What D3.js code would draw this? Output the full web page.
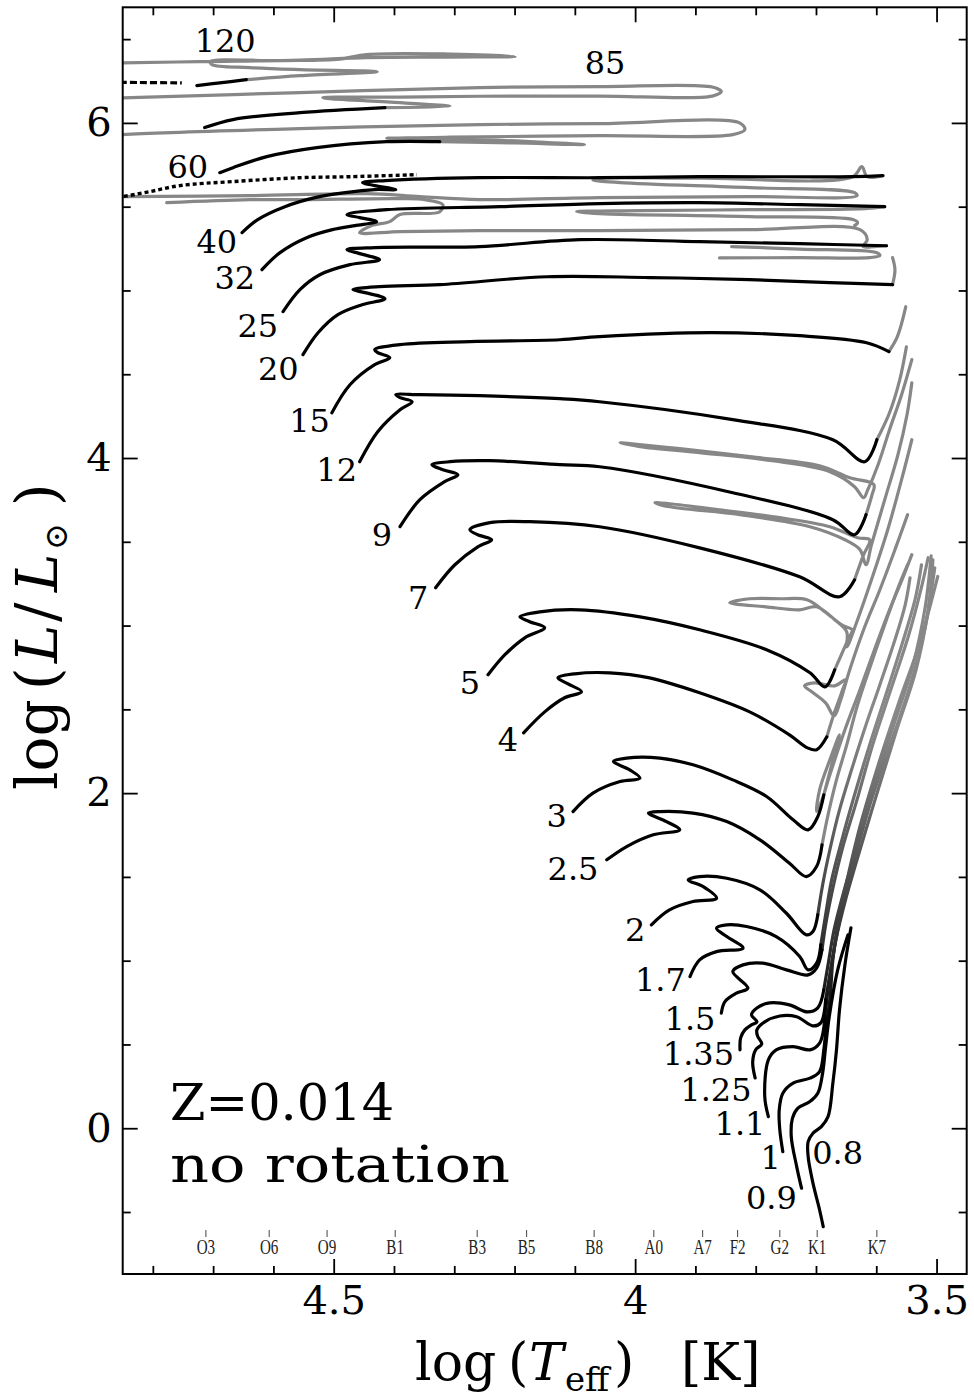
<!DOCTYPE html>
<html><head><meta charset="utf-8">
<script src="https://cdn.jsdelivr.net/npm/d3@7"></script>
<style>body{margin:0;background:#fff}svg{display:block}</style>
</head><body>
<svg id="chart" width="974" height="1398"></svg>
<script>
// Axis ticks
const xTicks = [4.8, 4.7, 4.6, 4.5, 4.4, 4.3, 4.2, 4.1, 4.0, 3.9, 3.8, 3.7, 3.6, 3.5];
const xMajor = [4.5, 4.0, 3.5];
const yTicks = [-0.5, 0, 0.5, 1, 1.5, 2, 2.5, 3, 3.5, 4, 4.5, 5, 5.5, 6, 6.5];
const yMajor = [0, 2, 4, 6];

// Spectral types along log Teff
const spectralTypes = ["O3","O6","O9","B1","B3","B5","B8","A0","A7","F2","G2","K1","K7"];
const spectralTeff  = [4.712,4.607,4.511,4.398,4.262,4.180,4.068,3.969,3.888,3.830,3.760,3.698,3.599];

// Initial masses (Msun) and label positions [logTeff, logL]
const masses = ["0.8","0.9","1","1.1","1.25","1.35","1.5","1.7","2","2.5","3","4","5","7","9","12","15","20","25","32","40","60","85","120"];
const labelPos = [
  [3.664,-0.147],[3.774,-0.416],[3.775,-0.177],[3.826,0.026],[3.866,0.229],[3.895,0.444],[3.909,0.653],[3.958,0.885],
  [4.000,1.184],[4.103,1.548],[4.130,1.864],[4.211,2.318],[4.274,2.658],[4.360,3.166],[4.420,3.542],[4.495,3.930],
  [4.540,4.223],[4.592,4.533],[4.626,4.790],[4.664,5.077],[4.694,5.291],[4.742,5.739],[4.050,6.363],[4.680,6.491]
];

// Early phases (main sequence, hook, Hertzsprung gap), drawn in black
const blackTracks = [
  [[3.688,-0.587],[3.694,-0.488],[3.705,-0.328],[3.713,-0.170],[3.713,-0.080],[3.705,-0.030],[3.691,0.010],[3.680,0.069],[3.672,0.269],[3.666,0.468],[3.661,0.706],[3.652,0.975],[3.642,1.196]],
  [[3.724,-0.358],[3.732,-0.229],[3.741,-0.050],[3.739,0.060],[3.730,0.120],[3.710,0.159],[3.697,0.209],[3.689,0.329],[3.684,0.486],[3.678,0.666],[3.664,0.945],[3.647,1.154]],
  [[3.755,-0.140],[3.760,-0.010],[3.761,0.109],[3.755,0.209],[3.738,0.269],[3.710,0.299],[3.694,0.338],[3.687,0.468],[3.683,0.627]],
  [[3.779,0.069],[3.785,0.189],[3.779,0.408],[3.766,0.468],[3.738,0.487],[3.710,0.468],[3.694,0.508],[3.685,0.666]],
  [[3.801,0.300],[3.805,0.396],[3.800,0.468],[3.790,0.503],[3.797,0.551],[3.798,0.587],[3.785,0.635],[3.760,0.670],[3.732,0.665],[3.705,0.611],[3.692,0.629],[3.684,0.766]],
  [[3.826,0.468],[3.825,0.539],[3.818,0.587],[3.807,0.617],[3.798,0.635],[3.807,0.677],[3.798,0.718],[3.777,0.748],[3.744,0.736],[3.714,0.694],[3.697,0.718],[3.687,0.826]],
  [[3.857,0.687],[3.851,0.756],[3.832,0.806],[3.813,0.836],[3.838,0.935],[3.821,0.975],[3.788,0.985],[3.749,0.945],[3.713,0.915],[3.699,0.955],[3.690,1.065]],
  [[3.909,0.905],[3.893,1.005],[3.865,1.054],[3.821,1.075],[3.848,1.144],[3.865,1.194],[3.848,1.214],[3.815,1.204],[3.766,1.144],[3.727,1.025],[3.713,0.945],[3.699,0.985],[3.692,1.094]],
  [[3.973,1.214],[3.943,1.303],[3.904,1.353],[3.865,1.373],[3.887,1.442],[3.912,1.482],[3.893,1.502],[3.848,1.492],[3.793,1.423],[3.749,1.283],[3.716,1.154],[3.705,1.174],[3.697,1.274]],
  [[4.047,1.602],[4.014,1.681],[3.970,1.751],[3.926,1.781],[3.948,1.830],[3.978,1.881],[3.959,1.890],[3.904,1.881],[3.848,1.830],[3.793,1.721],[3.744,1.582],[3.716,1.502],[3.699,1.562],[3.690,1.691]],
  [[4.103,1.890],[4.070,2.000],[4.025,2.069],[3.992,2.089],[4.009,2.139],[4.036,2.189],[4.014,2.209],[3.959,2.209],[3.904,2.169],[3.838,2.079],[3.782,1.980],[3.738,1.841],[3.713,1.781],[3.697,1.860],[3.687,1.990]],
  [[4.185,2.360],[4.150,2.485],[4.117,2.569],[4.089,2.605],[4.112,2.653],[4.128,2.688],[4.100,2.712],[4.042,2.718],[3.976,2.688],[3.893,2.599],[3.810,2.485],[3.744,2.348],[3.714,2.270],[3.699,2.259],[3.682,2.336]],
  [[4.244,2.706],[4.216,2.826],[4.183,2.927],[4.150,2.987],[4.175,3.023],[4.191,3.052],[4.158,3.082],[4.092,3.094],[3.992,3.052],[3.893,2.975],[3.782,2.856],[3.710,2.718],[3.685,2.634],[3.669,2.736]],
  [[4.331,3.226],[4.299,3.363],[4.261,3.470],[4.238,3.512],[4.261,3.542],[4.274,3.572],[4.241,3.614],[4.175,3.620],[4.059,3.590],[3.893,3.464],[3.727,3.291],[3.661,3.172],[3.636,3.273]],
  [[4.390,3.590],[4.357,3.751],[4.316,3.859],[4.294,3.900],[4.319,3.930],[4.337,3.960],[4.307,3.978],[4.241,3.984],[4.125,3.960],[4.059,3.948],[3.838,3.793],[3.672,3.632],[3.636,3.542],[3.617,3.662]],
  [[4.457,3.978],[4.427,4.157],[4.390,4.288],[4.370,4.336],[4.390,4.360],[4.397,4.378],[4.357,4.378],[4.258,4.372],[4.125,4.354],[4.059,4.336],[3.838,4.229],[3.672,4.109],[3.619,3.978],[3.599,4.109]],
  [[4.503,4.270],[4.473,4.437],[4.432,4.557],[4.407,4.599],[4.427,4.629],[4.432,4.647],[4.390,4.677],[4.274,4.695],[4.125,4.706],[4.059,4.724],[3.876,4.748],[3.727,4.730],[3.616,4.688],[3.579,4.635]],
  [[4.551,4.617],[4.526,4.748],[4.493,4.856],[4.453,4.915],[4.415,4.951],[4.448,4.987],[4.468,5.005],[4.424,5.023],[4.324,5.035],[4.146,5.082],[3.976,5.077],[3.810,5.065],[3.677,5.047],[3.573,5.035]],
  [[4.584,4.874],[4.556,5.005],[4.523,5.094],[4.473,5.154],[4.424,5.184],[4.457,5.220],[4.478,5.244],[4.432,5.256],[4.258,5.262],[4.092,5.303],[3.893,5.291],[3.727,5.279],[3.583,5.267]],
  [[4.619,5.124],[4.589,5.226],[4.545,5.315],[4.502,5.363],[4.465,5.387],[4.429,5.411],[4.457,5.435],[4.478,5.453],[4.412,5.482],[4.224,5.500],[4.059,5.518],[3.893,5.524],[3.727,5.512],[3.586,5.500]],
  [[4.652,5.345],[4.626,5.423],[4.581,5.500],[4.531,5.554],[4.481,5.584],[4.432,5.602],[4.397,5.602],[4.432,5.626],[4.452,5.644],[4.414,5.656],[4.258,5.673],[4.059,5.673],[3.893,5.679],[3.639,5.679],[3.589,5.685]],
  [[4.689,5.703],[4.667,5.733],[4.611,5.799],[4.528,5.853],[4.412,5.888],[4.324,5.888]],
  [[4.714,5.972],[4.667,6.020],[4.556,6.061],[4.415,6.091]],
  [[4.727,6.223],[4.689,6.239],[4.645,6.258]]
];

// Later phases (giant branches, blue loops, supergiant excursions), drawn in grey
const greyTracks = [
  null,
  null,
  [[3.683,0.627],[3.677,0.766],[3.672,1.005],[3.664,1.214],[3.652,1.423],[3.627,1.801],[3.594,2.199],[3.561,2.557],[3.528,2.895],[3.498,3.293]],
  [[3.685,0.666],[3.679,0.856],[3.670,1.065],[3.657,1.303],[3.636,1.602],[3.608,1.960],[3.574,2.318],[3.541,2.676],[3.518,3.005],[3.503,3.345]],
  [[3.684,0.766],[3.677,0.915],[3.667,1.124],[3.651,1.363],[3.627,1.662],[3.597,2.020],[3.566,2.378],[3.534,2.736],[3.514,3.094],[3.506,3.393]],
  [[3.687,0.826],[3.680,0.975],[3.670,1.184],[3.654,1.411],[3.631,1.692],[3.603,2.050],[3.571,2.408],[3.539,2.766],[3.519,3.106],[3.509,3.416]],
  [[3.690,1.065],[3.684,1.214],[3.672,1.433],[3.656,1.672],[3.632,1.960],[3.606,2.288],[3.576,2.617],[3.546,2.945],[3.526,3.214],[3.514,3.405]],
  [[3.692,1.094],[3.684,1.274],[3.674,1.482],[3.657,1.721],[3.636,1.990],[3.611,2.288],[3.583,2.599],[3.555,2.915],[3.535,3.166],[3.525,3.363]],
  [[3.697,1.274],[3.689,1.452],[3.677,1.662],[3.661,1.900],[3.641,2.139],[3.617,2.408],[3.594,2.647],[3.569,2.915],[3.552,3.124],[3.544,3.285]],
  [[3.690,1.691],[3.680,1.870],[3.666,2.079],[3.649,2.288],[3.631,2.527],[3.609,2.766],[3.586,3.005],[3.565,3.214],[3.548,3.363]],
  [[3.687,1.990],[3.674,2.169],[3.661,2.348],[3.677,2.199],[3.694,2.020],[3.699,1.890],[3.690,1.960],[3.677,2.109],[3.652,2.378],[3.627,2.617],[3.603,2.856],[3.578,3.094],[3.556,3.285],[3.541,3.423]],
  [[3.682,2.336],[3.669,2.485],[3.657,2.605],[3.651,2.676],[3.669,2.640],[3.702,2.658],[3.719,2.640],[3.707,2.605],[3.684,2.539],[3.670,2.461],[3.660,2.545],[3.644,2.736],[3.621,2.975],[3.594,3.214],[3.569,3.453],[3.548,3.662]],
  [[3.669,2.736],[3.647,2.915],[3.640,2.975],[3.655,2.999],[3.685,3.082],[3.715,3.154],[3.760,3.160],[3.810,3.160],[3.843,3.136],[3.783,3.112],[3.727,3.094],[3.699,3.112],[3.669,3.035],[3.649,2.963],[3.649,2.873],[3.631,3.035],[3.608,3.273],[3.581,3.572],[3.558,3.871],[3.541,4.109]],
  [[3.636,3.273],[3.621,3.423],[3.611,3.512],[3.631,3.524],[3.677,3.590],[3.760,3.644],[3.860,3.691],[3.943,3.727],[3.967,3.733],[3.943,3.709],[3.826,3.662],[3.710,3.590],[3.652,3.512],[3.627,3.453],[3.617,3.363],[3.608,3.482],[3.586,3.751],[3.564,4.020],[3.549,4.258],[3.541,4.449]],
  [[3.617,3.662],[3.607,3.781],[3.604,3.841],[3.644,3.882],[3.694,3.954],[3.810,4.008],[3.926,4.056],[4.009,4.086],[4.025,4.092],[3.992,4.068],[3.893,4.032],[3.760,3.978],[3.677,3.918],[3.636,3.829],[3.621,3.763],[3.614,3.811],[3.597,3.960],[3.578,4.169],[3.558,4.378],[3.541,4.587]],
  [[3.599,4.109],[3.578,4.270],[3.561,4.468],[3.550,4.664]],
  [[3.579,4.635],[3.565,4.724],[3.551,4.903]],
  [[3.573,5.035],[3.569,5.124],[3.573,5.196]],
  [[3.583,5.267],[3.603,5.262],[3.622,5.262],[3.615,5.303],[3.627,5.363],[3.810,5.363],[4.059,5.357],[4.258,5.357],[4.390,5.351],[4.457,5.345],[4.437,5.387],[4.407,5.411],[4.390,5.453],[4.324,5.470],[4.319,5.512],[4.349,5.542],[4.390,5.548],[4.556,5.542],[4.639,5.542],[4.777,5.524]],
  [[3.586,5.500],[3.619,5.488],[3.810,5.482],[3.992,5.476],[4.097,5.470],[4.059,5.459],[3.810,5.441],[3.639,5.423],[3.631,5.405],[3.636,5.387]],
  [[3.589,5.685],[3.615,5.679],[3.624,5.739],[3.639,5.679],[3.893,5.670],[4.059,5.670],[4.070,5.660],[4.025,5.644],[3.810,5.614],[3.636,5.584],[3.632,5.566],[3.810,5.560],[4.059,5.554],[4.258,5.542],[4.357,5.560],[4.445,5.578],[4.639,5.566],[4.850,5.560],[4.871,5.560]],
  [[4.324,5.888],[4.200,5.880],[4.084,5.871],[4.258,5.900],[4.390,5.906],[4.412,5.908],[4.307,5.915],[4.059,5.924],[3.838,5.930],[3.818,5.960],[3.826,5.999],[4.059,5.996],[4.258,5.990],[4.556,5.966],[4.850,5.930],[4.871,5.924]],
  [[4.415,6.091],[4.307,6.099],[4.390,6.121],[4.506,6.145],[4.518,6.151],[4.390,6.154],[4.258,6.159],[4.059,6.160],[3.872,6.160],[3.857,6.187],[3.872,6.214],[4.059,6.217],[4.258,6.211],[4.556,6.181],[4.850,6.149],[4.871,6.147]],
  [[4.645,6.258],[4.556,6.282],[4.428,6.306],[4.556,6.318],[4.639,6.330],[4.702,6.348],[4.705,6.366],[4.589,6.372],[4.490,6.381],[4.445,6.408],[4.307,6.411],[4.199,6.396],[4.307,6.393],[4.445,6.390],[4.556,6.375],[4.722,6.366],[4.850,6.358],[4.871,6.357]]
];

// Extra grey excursion of the 25 Msun model
const loop25 = [[3.840,5.262],[3.727,5.247],[3.600,5.226],[3.594,5.208],[3.611,5.196],[3.727,5.196],[3.860,5.194]];

// Dashed / dotted segments
const dashed120 = [[4.871,6.243],[4.850,6.242],[4.752,6.239]];
const dotted40 = [[4.871,5.548],[4.850,5.560],[4.805,5.590],[4.755,5.626],[4.667,5.650],[4.556,5.673],[4.473,5.679],[4.362,5.691]];

// Tracks whose giant branch is shaded dark-to-grey
const shadedRGB = ["1","1.1","1.25","1.35","1.5","1.7","2"];

// ---------------------------------------------------------------
const svg = d3.select("#chart");
const P = {left: 122.7, right: 966.7, top: 7.3, bottom: 1274};
const serif = "'DejaVu Serif', 'Liberation Serif', serif";

const x = d3.scaleLinear().domain([4.85, 3.45]).range([P.left, P.right]);
const y = d3.scaleLinear().domain([-0.87, 6.69]).range([P.bottom, P.top]);

const defs = svg.append("defs");
defs.append("clipPath").attr("id", "plotClip").append("rect")
  .attr("x", P.left).attr("y", P.top).attr("width", P.right - P.left).attr("height", P.bottom - P.top);

const grad = defs.append("linearGradient").attr("id", "rgbShade")
  .attr("gradientUnits", "userSpaceOnUse")
  .attr("x1", 0).attr("x2", 0).attr("y1", y(0.5)).attr("y2", y(2.4));
grad.append("stop").attr("offset", 0).attr("stop-color", "#000");
grad.append("stop").attr("offset", 0.45).attr("stop-color", "#444");
grad.append("stop").attr("offset", 1).attr("stop-color", "#878787");

const line = d3.line().x(d => x(d[0])).y(d => y(d[1])).curve(d3.curveCatmullRom.alpha(0.5));

const plot = svg.append("g").attr("clip-path", "url(#plotClip)");
const GREY = "#878787";
const LW = 3.2;

// grey later phases
plot.append("g").selectAll("path").data(greyTracks.map((t, i) => ({t, m: masses[i]})).filter(d => d.t))
  .join("path")
  .attr("d", d => line(d.t))
  .attr("fill", "none")
  .attr("stroke", d => shadedRGB.includes(d.m) ? "url(#rgbShade)" : GREY)
  .attr("stroke-width", LW)
  .attr("stroke-linejoin", "round").attr("stroke-linecap", "round");

plot.append("path").attr("d", line(loop25)).attr("fill", "none")
  .attr("stroke", GREY).attr("stroke-width", LW).attr("stroke-linecap", "round");

// black early phases
plot.append("g").selectAll("path").data(blackTracks).join("path")
  .attr("d", d => line(d))
  .attr("fill", "none").attr("stroke", "#000").attr("stroke-width", LW)
  .attr("stroke-linejoin", "round").attr("stroke-linecap", "round");

plot.append("path").attr("d", line(dashed120)).attr("fill", "none")
  .attr("stroke", "#000").attr("stroke-width", LW).attr("stroke-dasharray", "7,3");
plot.append("path").attr("d", line(dotted40)).attr("fill", "none")
  .attr("stroke", "#000").attr("stroke-width", 3.4).attr("stroke-dasharray", "4,3");

// mass labels
const LFS = 32;
svg.append("g").selectAll("text").data(masses).join("text")
  .attr("x", (d, i) => x(labelPos[i][0]))
  .attr("y", (d, i) => y(labelPos[i][1]) + LFS * 0.36)
  .attr("text-anchor", "middle")
  .attr("font-family", serif).attr("font-size", LFS)
  .text(d => d);

// spectral types
const spec = svg.append("g");
spectralTypes.forEach((s, i) => {
  const sx = x(spectralTeff[i]);
  spec.append("line").attr("x1", sx).attr("x2", sx).attr("y1", P.bottom - 44).attr("y2", P.bottom - 37)
    .attr("stroke", "#444").attr("stroke-width", 1);
  spec.append("text")
    .attr("transform", `translate(${sx},${P.bottom - 20}) scale(0.72,1)`)
    .attr("text-anchor", "middle")
    .attr("font-family", "'Liberation Serif', serif").attr("font-size", 21)
    .attr("fill", "#222")
    .text(s);
});

// axes: ticks on all four sides pointing inward
function styleAxis(g) {
  g.select(".domain").remove();
  g.selectAll(".tick line").attr("stroke", "#000").attr("stroke-width", 1.8);
  g.selectAll(".tick text").attr("font-family", serif).attr("fill", "#000");
}
const minorX = xTicks.filter(v => !xMajor.includes(v));
const minorY = yTicks.filter(v => !yMajor.includes(v));

svg.append("g").attr("transform", `translate(0,${P.bottom})`)
  .call(d3.axisBottom(x).tickValues(minorX).tickSize(-8).tickFormat("")).call(styleAxis);
svg.append("g").attr("transform", `translate(0,${P.bottom})`)
  .call(d3.axisBottom(x).tickValues(xMajor).tickSize(-15).tickPadding(12).tickFormat(d3.format(".2~f")))
  .call(styleAxis)
  .call(g => g.selectAll(".tick text").attr("font-size", 40));
svg.append("g").attr("transform", `translate(0,${P.top})`)
  .call(d3.axisTop(x).tickValues(minorX).tickSize(-8).tickFormat("")).call(styleAxis);
svg.append("g").attr("transform", `translate(0,${P.top})`)
  .call(d3.axisTop(x).tickValues(xMajor).tickSize(-15).tickFormat("")).call(styleAxis);

svg.append("g").attr("transform", `translate(${P.left},0)`)
  .call(d3.axisLeft(y).tickValues(minorY).tickSize(-8).tickFormat("")).call(styleAxis);
svg.append("g").attr("transform", `translate(${P.left},0)`)
  .call(d3.axisLeft(y).tickValues(yMajor).tickSize(-15).tickPadding(11).tickFormat(d3.format("d")))
  .call(styleAxis)
  .call(g => g.selectAll(".tick text").attr("font-size", 40));
svg.append("g").attr("transform", `translate(${P.right},0)`)
  .call(d3.axisRight(y).tickValues(minorY).tickSize(-8).tickFormat("")).call(styleAxis);
svg.append("g").attr("transform", `translate(${P.right},0)`)
  .call(d3.axisRight(y).tickValues(yMajor).tickSize(-15).tickFormat("")).call(styleAxis);

// frame
svg.append("rect").attr("x", P.left).attr("y", P.top)
  .attr("width", P.right - P.left).attr("height", P.bottom - P.top)
  .attr("fill", "none").attr("stroke", "#000").attr("stroke-width", 2);

// axis titles
const xt = svg.append("text").attr("y", 1380).attr("font-family", serif).attr("font-size", 52);
xt.append("tspan").attr("x", 415).text("log");
xt.append("tspan").attr("x", 508).text("(");
xt.append("tspan").attr("x", 529).attr("font-style", "italic").text("T");
xt.append("tspan").attr("x", 565).attr("font-size", 34).attr("dy", 11).text("eff");
xt.append("tspan").attr("x", 614).attr("dy", -11).text(")");
xt.append("tspan").attr("x", 681).text("[K]");

const yt = svg.append("text").attr("transform", "translate(57,790) rotate(-90)")
  .attr("font-family", serif).attr("font-size", 58);
yt.append("tspan").attr("x", 0).text("log");
yt.append("tspan").attr("x", 100).text("(");
yt.append("tspan").attr("x", 127).attr("font-style", "italic").text("L");
yt.append("tspan").attr("x", 168).text("/");
yt.append("tspan").attr("x", 198).attr("font-style", "italic").text("L");
yt.append("tspan").attr("x", 240).attr("font-size", 32).attr("dy", 10).text("⊙");
yt.append("tspan").attr("x", 284).attr("dy", -10).text(")");

// model set annotation
svg.append("text").attr("x", 170).attr("y", 1120)
  .attr("font-family", serif).attr("font-size", 51).text("Z=0.014");
svg.append("text").attr("x", 170).attr("y", 1182)
  .attr("font-family", serif).attr("font-size", 51)
  .attr("textLength", 340).attr("lengthAdjust", "spacingAndGlyphs").text("no rotation");
</script>
</body></html>
